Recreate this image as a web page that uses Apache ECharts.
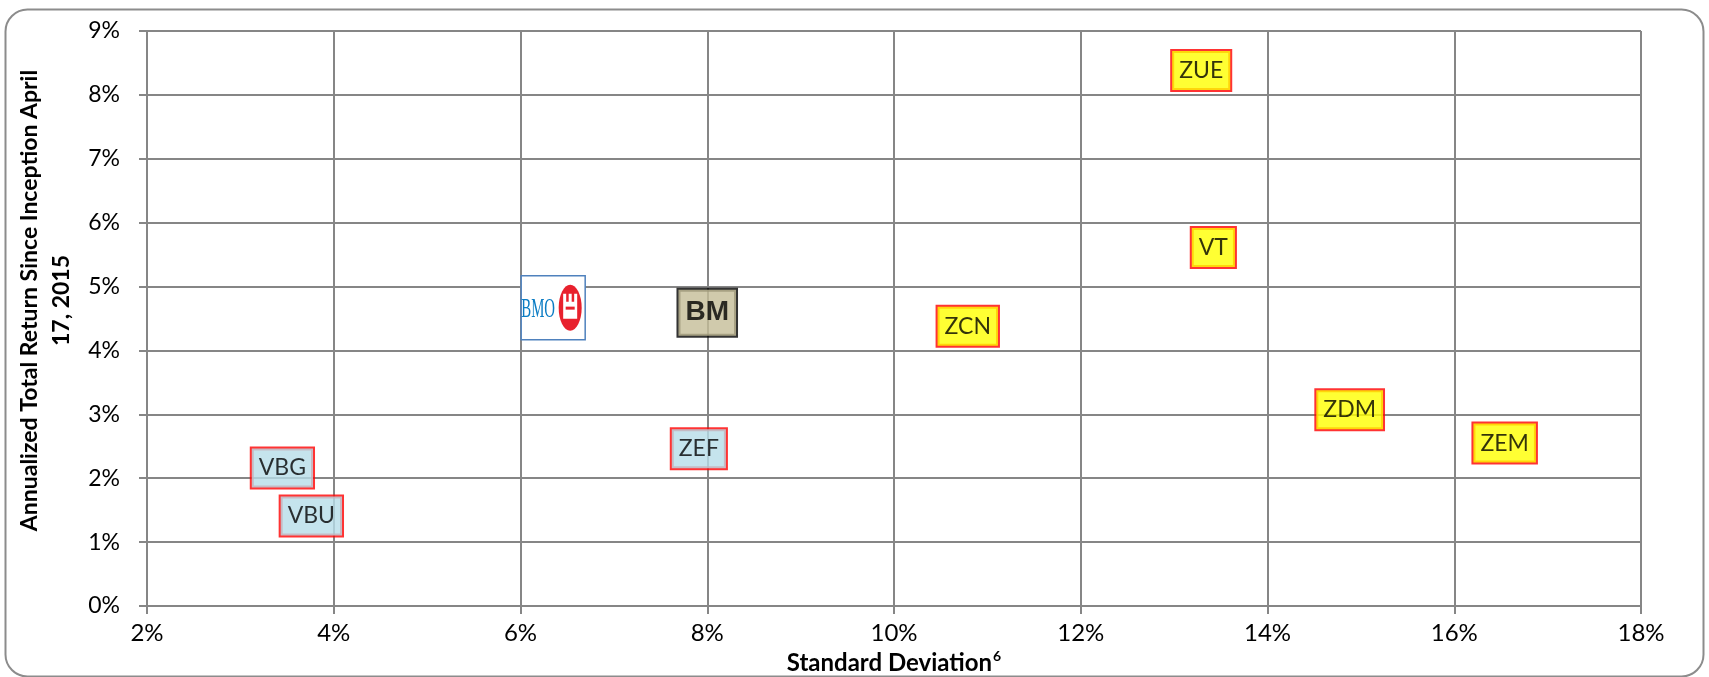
<!DOCTYPE html>
<html>
<head>
<meta charset="utf-8">
<script src="https://cdn.jsdelivr.net/npm/echarts@6/dist/echarts.min.js"></script>
<style>
  html, body { margin: 0; padding: 0; background: #fff; }
  #chart { width: 1709px; height: 677px; }
</style>
</head>
<body>
<div id="chart"></div>
<script>
  // values, in percent
  var blueFunds = ['VBG', 'VBU', 'ZEF']
  var blueStdDev = [3.45, 3.76, 7.91]
  var blueReturn = [2.16, 1.41, 2.46]

  var yellowFunds = ['ZCN', 'VT', 'ZUE', 'ZDM', 'ZEM']
  var yellowStdDev = [10.79, 13.42, 13.29, 14.88, 16.54]
  var yellowReturn = [4.38, 5.61, 8.38, 3.07, 2.55]

  var bmName = 'BM'
  var bmPoint = [8.0, 4.59]
  var logoPoint = [6.35, 4.67]

  var xTicks = [2, 4, 6, 8, 10, 12, 14, 16, 18]
  var yTicks = [0, 1, 2, 3, 4, 5, 6, 7, 8, 9]

  var gridColor = '#868686'
  var font = 'Lato'

  function points(names, xs, ys) {
    return names.map(function (n, i) {
      return { name: n, value: [xs[i], ys[i]] }
    })
  }

  function boxLabel(fill) {
    return {
      show: true,
      position: 'inside',
      formatter: '{b}',
      color: '#000',
      fontFamily: font,
      fontSize: 23,
      lineHeight: 23,
      backgroundColor: fill,
      borderColor: '#ff0000',
      borderWidth: 2,
      padding: [8, 7, 8, 7]
    }
  }

  // BMO logo: blue frame, "BMO" word and red roundel
  function renderLogo(params, api) {
    var p = api.coord([api.value(0), api.value(1)])
    var cx = p[0], cy = p[1]
    return {
      type: 'group',
      children: [
        {
          type: 'rect',
          shape: { x: cx - 32, y: cy - 32, width: 64, height: 64 },
          style: { fill: '#fff', stroke: '#4f81bd', lineWidth: 1.5 }
        },
        {
          type: 'text',
          x: cx - 15, y: cy + 2,
          scaleX: 0.55,
          style: {
            text: 'BMO', fill: '#0a7cc4', fontFamily: 'Liberation Serif',
            fontSize: 27, align: 'center', verticalAlign: 'middle'
          }
        },
        {
          type: 'ellipse',
          shape: { cx: cx + 17, cy: cy, rx: 11.5, ry: 23 },
          style: { fill: '#e8212d' }
        },
        {
          type: 'polygon',
          shape: {
            points: [
              [cx + 10, cy + 11], [cx + 10, cy - 14], [cx + 13, cy - 14], [cx + 13, cy - 6],
              [cx + 15.5, cy - 6], [cx + 15.5, cy - 14], [cx + 18.5, cy - 14], [cx + 18.5, cy - 6],
              [cx + 21, cy - 6], [cx + 21, cy - 14], [cx + 24, cy - 14], [cx + 24, cy + 11]
            ]
          },
          style: { fill: '#fff' }
        },
        {
          type: 'rect',
          shape: { x: cx + 12.5, y: cy - 1, width: 9, height: 3 },
          style: { fill: '#e8212d' }
        }
      ]
    }
  }

  var chart = echarts.init(document.getElementById('chart'))
  chart.setOption({
    backgroundColor: '#fff',
    animation: false,
    textStyle: { fontFamily: font },
    graphic: [
      {
        type: 'rect',
        left: 3,
        top: 7,
        shape: { width: 1698, height: 667, r: 22 },
        style: { fill: 'none', stroke: '#8c8c8c', lineWidth: 2 },
        z: 0
      }
    ],
    grid: { left: 147, right: 68, top: 31, bottom: 71, outerBoundsMode: 'none' },
    xAxis: {
      type: 'value',
      min: xTicks[0],
      max: xTicks[xTicks.length - 1],
      interval: xTicks[1] - xTicks[0],
      name: 'Standard Deviation{s|6}',
      nameLocation: 'middle',
      nameGap: 34,
      nameTextStyle: {
        fontFamily: font, fontSize: 24, fontWeight: 'bold', color: '#000',
        rich: { s: { fontSize: 14, fontWeight: 'bold', color: '#000', verticalAlign: 'top', padding: [0, 0, 12, 1] } }
      },
      axisLine: { show: true, lineStyle: { color: gridColor, width: 2 } },
      axisTick: { show: true, length: 8, lineStyle: { color: gridColor, width: 2 } },
      splitLine: { show: true, lineStyle: { color: gridColor, width: 2 } },
      axisLabel: { formatter: '{value}%', fontSize: 24, color: '#000', margin: 15, fontFamily: font }
    },
    yAxis: {
      type: 'value',
      min: yTicks[0],
      max: yTicks[yTicks.length - 1],
      interval: yTicks[1] - yTicks[0],
      name: 'Annualized Total Return Since Inception April\n17, 2015',
      nameLocation: 'middle',
      nameRotate: 90,
      nameGap: 68,
      nameTextStyle: {
        fontFamily: font, fontSize: 23, fontWeight: 'bold', color: '#000',
        lineHeight: 32, align: 'center', padding: [0, 0, 0, 36]
      },
      axisLine: { show: true, lineStyle: { color: gridColor, width: 2 } },
      axisTick: { show: true, length: 8, lineStyle: { color: gridColor, width: 2 } },
      splitLine: { show: true, lineStyle: { color: gridColor, width: 2 } },
      axisLabel: { formatter: '{value}%', fontSize: 23, color: '#000', margin: 27, fontFamily: font }
    },
    series: [
      {
        type: 'scatter',
        symbolSize: 0,
        data: points(blueFunds, blueStdDev, blueReturn),
        label: boxLabel('#b7dde8'),
        z: 3
      },
      {
        type: 'scatter',
        symbolSize: 0,
        data: points(yellowFunds, yellowStdDev, yellowReturn),
        label: boxLabel('#ffff00'),
        z: 3
      },
      {
        type: 'scatter',
        symbolSize: 0,
        data: [{ name: bmName, value: bmPoint }],
        label: {
          show: true,
          position: 'inside',
          formatter: '{b}',
          color: '#000',
          fontFamily: 'Liberation Sans',
          fontWeight: 'bold',
          fontSize: 28,
          lineHeight: 28,
          backgroundColor: '#c4bd97',
          borderColor: '#000',
          borderWidth: 2,
          padding: [9, 7, 9, 7]
        },
        z: 3
      },
      {
        type: 'custom',
        data: [logoPoint],
        renderItem: renderLogo,
        z: 3
      }
    ]
  })
</script>
</body>
</html>
